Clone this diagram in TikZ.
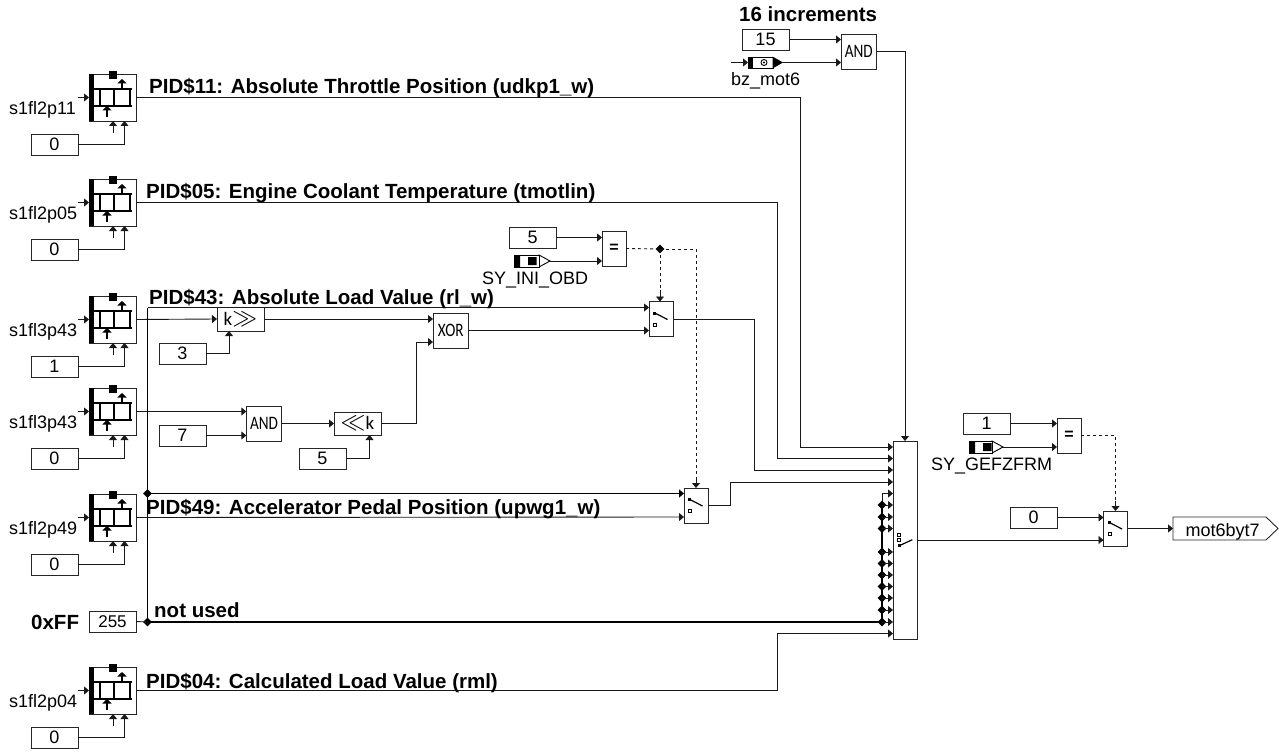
\documentclass[tikz,border=0pt]{standalone}
\usepackage{fontspec}
\setmainfont{Liberation Sans}
\newfontfamily\symfont{Carlito}
\usetikzlibrary{arrows.meta,shapes.geometric,calc}
\newcommand{\narrowtext}[1]{\scalebox{0.8}[1]{#1}}
\tikzset{
  wire/.style={line width=0.9pt,draw=black!90,-{Triangle[length=5pt,width=8pt]}},
  plainwire/.style={line width=0.9pt,draw=black!90},
  ctrl/.style={line width=0.9pt,draw=black!90,dash pattern=on 3pt off 3pt},
  thickbus/.style={line width=1.7pt,draw=black},
  boxbase/.style={draw=black!85,line width=0.9pt,fill=white,inner sep=0pt,outer sep=0pt,anchor=north west},
  konst/.style={boxbase,minimum width=47pt,minimum height=21pt,font=\fontsize{18}{18}\selectfont},
  ladderbox/.style={boxbase,minimum width=47pt,minimum height=47pt},
  opbox/.style={boxbase,minimum width=35.5pt,minimum height=35pt,font=\symfont\fontsize{19}{19}\selectfont},
  shiftbox/.style={boxbase,minimum width=47pt,minimum height=23pt,font=\symfont\fontsize{19}{19}\selectfont},
  switchbox/.style={boxbase,minimum width=24pt,minimum height=35pt},
  eqbox/.style={boxbase,minimum width=24pt,minimum height=35pt,font=\bfseries\fontsize{16}{16}\selectfont},
  lbl/.style={anchor=base west,inner sep=0pt,font=\fontsize{18}{18}\selectfont},
  note/.style={anchor=base west,inner sep=0pt,font=\bfseries\fontsize{20.5}{20.5}\selectfont},
  junction/.style={diamond,fill=black,inner sep=0pt,minimum size=9pt},
}
% ladder block: name, top y, constant, label
\newcommand{\LadderBlock}[4]{%
  \node[ladderbox] (#1) at (89,#2) {};
  \fill[black] (89,#2) rectangle +(5,47);
  \fill[black] (109,#2-3) rectangle +(8,8);
  \draw[line width=1.9pt] (94,#2+15) -- +(38,0) (94,#2+32) -- +(38,0);
  \draw[line width=1.9pt] (100,#2+15) -- +(0,17) (114,#2+15) -- +(0,17) (130,#2+15) -- +(0,17);
  \draw[line width=1.6pt,-{Triangle[length=4.5pt,width=9pt]}] (122,#2+15) -- +(0,-10);
  \draw[line width=1.6pt,-{Triangle[length=4.5pt,width=9pt]}] (107,#2+43) -- +(0,-11);
  \coordinate (#1-in) at (89,#2+23.5);
  \coordinate (#1-out) at (136,#2+23.5);
  \coordinate (#1-src) at (78,#2+23.5);
  \coordinate (#1-b) at (113,#2+59);
  \coordinate (#1-ba) at (113,#2+47);
  \coordinate (#1-bb) at (124.5,#2+47);
  \node[konst] (#1-k) at (31,#2+60) {#3};
  \draw[wire] (#1-src) -- (#1-in);
  \draw[wire] (#1-b) -- (#1-ba);
  \draw[wire] (#1-k.east) -| (#1-bb);
  \node[lbl] (#1-l) at (9,#2+40.5) {#4};
}
% switch icon at box top-left
\newcommand{\SwitchIcon}[2]{%
  \fill[black] (#1+4,#2+10) rectangle +(3,3);
  \draw[line width=1.2pt] (#1+5.5,#2+11.3) -- (#1+18.5,#2+18);
  \draw[line width=0.7pt] (#1+4.5,#2+21.5) rectangle +(3,3);
}
\begin{document}
\begin{tikzpicture}[x=1pt,y=-1pt]
\useasboundingbox (0,0) rectangle (1279,754);

% ---- ladder blocks
\LadderBlock{bA}{74}{0}{s1fl2p11}
\LadderBlock{bB}{179}{0}{s1fl2p05}
\LadderBlock{bC}{296}{1}{s1fl3p43}
\LadderBlock{bD}{388}{0}{s1fl3p43}
\LadderBlock{bE}{494}{0}{s1fl2p49}
\LadderBlock{bF}{667}{0}{s1fl2p04}

% ---- big switch
\node[boxbase,minimum width=24pt,minimum height=198pt] (big) at (893,441) {};
\fill[black] (898,544) rectangle +(3,3);
\draw[line width=1.2pt] (899.3,545.7) -- (912.3,539.7);
\draw[line width=0.7pt] (897.8,533.5) rectangle +(3,3) (897.8,538.2) rectangle +(3,3);

% ---- top AND
\node[konst] (k15) at (742,29) {15};
\node[opbox] (andT) at (841,34) {\narrowtext{AND}};
\coordinate (andT-a) at (841,39.5);
\coordinate (andT-b) at (841,62.5);
\coordinate (bzsrc) at (731,62.5);
\coordinate (bzin) at (748,62.5);
\coordinate (bzout) at (783,62.5);
\draw[wire] (bzsrc) -- (bzin);
\draw[wire] (bzout) -- (andT-b);
\draw[wire] (k15.east) -- (k15.east -| andT-a);
\draw[fill=white,line width=0.9pt] (748,57) rectangle (773,68);
\fill[black] (748,57) rectangle (752.5,68);
\fill[black] (772.5,56.5) -- (783,62.5) -- (772.5,68.5) -- cycle;
\draw[line width=0.9pt] (764,62.5) circle (3);
\fill[black] (764,62.5) circle (1.2);
\node[lbl] (bzl) at (731,85.5) {bz\_mot6};
\node[note] (inc) at (739,21.5) {16 increments};
\draw[wire] (andT.east) -| (big.north -| 905,0);

% ---- equal 1
\node[konst] (k5a) at (509,227) {5};
\node[eqbox] (eqA) at (602,231) {=};
\coordinate (eqA-a) at (602,237.5);
\coordinate (eqA-b) at (602,261);
\draw[wire] (k5a.east) -- (k5a.east -| eqA-a);
\coordinate (syAout) at (550,261);
\draw[wire] (syAout) -- (eqA-b);
\draw[fill=white,line width=0.9pt] (539,255) -- (550,261) -- (539,267) -- cycle;
\draw[fill=white,line width=0.9pt] (514.5,255) rectangle (539,267);
\fill[black] (514.5,255) rectangle (520,267) (528,257) rectangle (536.5,265);
\node[lbl] (syAl) at (482,284) {SY\_INI\_OBD};

% ---- switches
\node[switchbox] (swA) at (649,301.5) {};
\SwitchIcon{649}{301.5}
\node[switchbox] (swB) at (684,488) {};
\SwitchIcon{684}{488}
\node[junction] (jA) at (660,249) {};
\draw[ctrl] (eqA.east) -- (jA.center);
\draw[ctrl] (jA.center) -- (660,290);
\draw[wire] (660,290) -- (swA.north -| jA);
\coordinate (ctrlB) at (696,249);
\draw[ctrl] (jA.center) -- (ctrlB) -- (696,478);
\draw[wire] (696,478) -- (swB.north);

% ---- shift / logic row
\node[shiftbox,minimum height=24pt] (shR) at (217,307) {k{\fontsize{24}{24}\selectfont$\gg$}};
\node[konst] (k3) at (159,343) {3};
\draw[wire] (k3.east) -| (shR.south -| 229,0);
\draw[wire] (bC-out) -- (shR.west);
\node[opbox] (xor) at (433,313) {\narrowtext{XOR}};
\draw[wire] (shR.east) -- (xor.west |- shR.east);
\coordinate (swA-a) at (649,307.5);
\coordinate (swA-b) at (649,331);
\draw[wire] (xor.east) -- (xor.east -| swA-b);
\node[opbox] (andM) at (246.3,406) {\narrowtext{AND}};
\node[konst] (k7) at (159,425) {7};
\draw[wire] (bD-out) -- (bD-out -| andM.west);
\draw[wire] (k7.east) -- (k7.east -| andM.west);
\node[shiftbox] (shL) at (334,412) {{\fontsize{24}{24}\selectfont$\ll$}k};
\draw[wire] (andM.east) -- (shL.west);
\node[konst] (k5b) at (299,448) {5};
\draw[wire] (k5b.east) -| (shL.south -| 369.5,0);
\coordinate (xor-b) at (433,342);
\draw[wire] (shL.east) -| (416,342) -- (xor-b);

% ---- 255 bus
\node[konst,font=\fontsize{17}{17}\selectfont] (k255) at (89,611) {255};
\node[junction] (jB) at (147.5,622) {};
\node[junction] (jC) at (147.5,493.5) {};
\draw[plainwire] (k255.east) -- (jB.center);
\draw[thickbus] (jB.center) -- (882,622);
\draw[line width=1.3pt] (jB.center) -- (147.5,307.5);
\draw[wire] (147.5,307.5) -- (swA-a);
\coordinate (swB-a) at (684,493.5);
\coordinate (swB-b) at (684,517);
\draw[line width=1.3pt,draw=black,-{Triangle[length=5pt,width=8pt]}] (jC.center) -- (swB-a);
\draw[wire] (bE-out) -- (swB-b);

% ---- wires into big switch
\draw[wire] (bA-out) -| (800.5,447) -- (big.west |- 0,447);
\draw[wire] (bB-out) -| (777,458.5) -- (big.west |- 0,458.5);
\draw[wire] (swA.east) -| (754,470) -- (big.west |- 0,470);
\draw[wire] (swB.east) -| (730,482) -- (big.west |- 0,482);
\draw[wire] (bF-out) -| (777,633.5) -- (big.west |- 0,633.5);
\draw[thickbus] (882,505) -- (882,622);
\draw[wire] (882,505) |- (big.west |- 0,493.5);
\foreach \i/\yy in {1/505,2/517,3/528.5,4/552,5/563.5,6/575,7/586.5,8/598,9/610,10/622}{
  \node[junction] (bus\i) at (882,\yy) {};
  \draw[wire] (bus\i.center) -- (big.west |- bus\i);
}

% ---- right part
\node[konst] (k1) at (963,413) {1};
\node[eqbox] (eqB) at (1057,418) {=};
\coordinate (eqB-a) at (1057,424);
\coordinate (eqB-b) at (1057,447);
\draw[wire] (k1.east) -- (k1.east -| eqB-a);
\coordinate (syBout) at (1003,447);
\draw[wire] (syBout) -- (eqB-b);
\draw[fill=white,line width=0.9pt] (992,441) -- (1003,447) -- (992,453) -- cycle;
\draw[fill=white,line width=0.9pt] (969.5,441) rectangle (992,453);
\fill[black] (969.5,441) rectangle (975,453) (983,443) rectangle (991.5,451);
\node[lbl] (syBl) at (931,470) {SY\_GEFZFRM};
\node[switchbox] (swC) at (1103.5,511) {};
\SwitchIcon{1103.5}{511}
\coordinate (ctrlC) at (1115.5,435.5);
\draw[ctrl] (eqB.east) -- (ctrlC) -- (1115.5,501);
\draw[wire] (1115.5,501) -- (swC.north);
\node[konst] (k0) at (1010,507) {0};
\coordinate (swC-a) at (1103.5,517.5);
\coordinate (swC-b) at (1103.5,540);
\draw[wire] (k0.east) -- (swC-a);
\draw[wire] (big.east |- swC-b) -- (swC-b);
\node[boxbase,draw=none,fill=none,minimum width=105pt,minimum height=23pt] (outp) at (1173,517) {};
\draw[line width=0.9pt,draw=black!85] (1173,517) -- (1266,517) -- (1278,528.5) -- (1266,540) -- (1173,540) -- cycle;
\node[lbl] (outl) at (1185.5,536) {mot6byt7};
\draw[wire] (swC.east) -- (outp.west);

% ---- annotations
\node[note] (nA) at (149,94) {PID\$11: Absolute Throttle Position (udkp1\_w)};
\node[note] (nB) at (146,199) {PID\$05: Engine Coolant Temperature (tmotlin)};
\node[note] (nC) at (149,304) {PID\$43: Absolute Load Value (rl\_w)};
\node[note] (nE) at (146,514) {PID\$49: Accelerator Pedal Position (upwg1\_w)};
\node[note] (nG) at (154,617.5) {not used};
\node[note] (nH) at (31,629) {0xFF};
\node[note] (nF) at (146,688) {PID\$04: Calculated Load Value (rml)};
\end{tikzpicture}
\end{document}
